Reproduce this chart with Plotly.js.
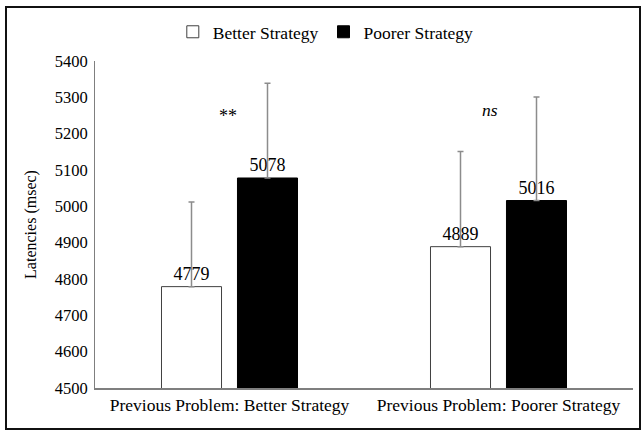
<!DOCTYPE html>
<html>
<head>
<meta charset="utf-8">
<script src="https://cdn.plot.ly/plotly-3.0.1.min.js"></script>
<style>
html,body{margin:0;padding:0;background:#fff;}
#chart{width:642px;height:431px;}
</style>
</head>
<body>
<div id="chart"></div>
<script>
const categories = ['Previous Problem: Better Strategy', 'Previous Problem: Poorer Strategy'];
const betterValues = [4779, 4889];
const poorerValues = [5078, 5016];
const betterErrors = [233, 262];
const poorerErrors = [261, 285];
const seriesNames = ['Better Strategy', 'Poorer Strategy'];
const yTicks = [4500, 4600, 4700, 4800, 4900, 5000, 5100, 5200, 5300, 5400];
const sigLabels = ['**', '<i>ns</i>'];

const FONT = 'Liberation Serif';

const traces = [
  {
    type: 'bar', name: seriesNames[0], x: categories, y: betterValues,
    marker: {color: '#ffffff', line: {color: '#404040', width: 1}},
    error_y: {type: 'data', array: betterErrors, symmetric: false, arrayminus: [0, 0], color: '#8c8c8c', thickness: 1.5, width: 3},
    text: betterValues.map(String), textposition: 'outside', cliponaxis: false,
    textfont: {family: FONT, size: 18, color: '#000'}
  },
  {
    type: 'bar', name: seriesNames[1], x: categories, y: poorerValues,
    marker: {color: '#000000', line: {color: '#000000', width: 1}},
    error_y: {type: 'data', array: poorerErrors, symmetric: false, arrayminus: [0, 0], color: '#8c8c8c', thickness: 1.5, width: 3},
    text: poorerValues.map(String), textposition: 'outside', cliponaxis: false,
    textfont: {family: FONT, size: 18, color: '#000'}
  }
];

const layout = {
  width: 642, height: 431,
  margin: {l: 95, r: 9, t: 61, b: 43, pad: 0},
  paper_bgcolor: '#fff', plot_bgcolor: '#fff',
  font: {family: FONT, size: 16, color: '#000'},
  barmode: 'group', bargap: 0.435, bargroupgap: 0.21,
  showlegend: true,
  legend: {orientation: 'h', x: 0.429, xanchor: 'center', y: 1.089, yanchor: 'middle',
           font: {family: FONT, size: 17.5, color: '#000'}, itemwidth: 30, tracegroupgap: 0},
  xaxis: {type: 'category', showgrid: false, zeroline: false, showline: true,
          linecolor: '#7f7f7f', linewidth: 1.5, ticks: '', tickfont: {family: FONT, size: 17.5, color: '#000'}},
  yaxis: {range: [4500, 5400], tickvals: yTicks, ticktext: yTicks.map(String), showgrid: false, zeroline: false,
          showline: true, linecolor: '#7f7f7f', linewidth: 1, ticks: '', ticklabelstandoff: 3,
          tickfont: {family: FONT, size: 16.5, color: '#000'},
          title: {text: 'Latencies (msec)', font: {family: FONT, size: 16, color: '#000'}, standoff: 14}},
  annotations: [
    {xref: 'paper', yref: 'y', x: 0.2268, y: 5250, text: sigLabels[0], showarrow: false, font: {family: FONT, size: 18, color: '#000'}},
    {xref: 'paper', yref: 'y', x: 0.753, y: 5266, text: sigLabels[1], showarrow: false, font: {family: FONT, size: 17.5, color: '#000'}}
  ],
  shapes: [
    {type: 'rect', xref: 'paper', yref: 'paper',
     x0: (6 - 95) / 538, x1: (640 - 95) / 538, y0: (388 - 429) / 327, y1: (388 - 7) / 327,
     line: {color: '#111', width: 2}, fillcolor: 'rgba(0,0,0,0)', layer: 'above'}
  ]
};

Plotly.newPlot('chart', traces, layout, {displayModeBar: false, staticPlot: true});
</script>
</body>
</html>
